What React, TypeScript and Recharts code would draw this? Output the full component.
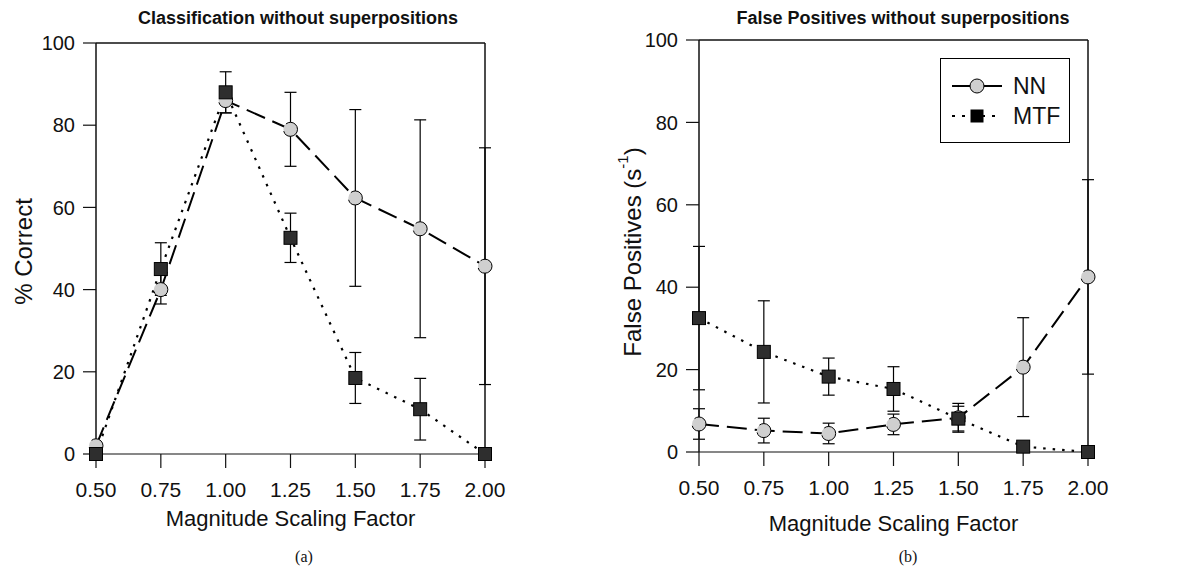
import React from 'react';
import { LineChart, Line, XAxis, YAxis, ErrorBar, ReferenceLine, Label } from 'recharts';

// magnitude scaling factors (x values) and axis ticks
const scaleFactors = [0.5, 0.75, 1.0, 1.25, 1.5, 1.75, 2.0];
const yTicks = [0, 20, 40, 60, 80, 100];

// (a) classification, % correct
const nnCorrect = [2, 40, 86, 79, 62.3, 54.8, 45.7];
const nnCorrectErr = [0, 3.5, 3, 9, 21.5, 26.5, 28.8];
const mtfCorrect = [0, 45, 88, 52.6, 18.5, 10.9, 0];
const mtfCorrectErr = [0, 6.4, 5, 6, 6.2, 7.5, 0];

// (b) false positives, per second
const nnFalse = [6.8, 5.2, 4.5, 6.7, 8.3, 20.6, 42.5];
const nnFalseErr = [3.7, 3, 2.5, 2.5, 3.5, 12, 23.6];
const mtfFalse = [32.5, 24.3, 18.3, 15.3, 8.1, 1.3, 0];
const mtfFalseErr = [17.4, 12.4, 4.5, 5.4, 3, 0, 0];

const correctData = scaleFactors.map((s, i) => ({
  s,
  nn: nnCorrect[i],
  nnErr: nnCorrectErr[i],
  mtf: mtfCorrect[i],
  mtfErr: mtfCorrectErr[i],
}));

const falseData = scaleFactors.map((s, i) => ({
  s,
  nn: nnFalse[i],
  nnErr: nnFalseErr[i],
  mtf: mtfFalse[i],
  mtfErr: mtfFalseErr[i],
}));

const FONT = '"Liberation Sans", Arial, Helvetica, sans-serif';
const INK = '#111';

const SquareDot = (props: any) => {
  const { cx, cy, index } = props;
  if (cx == null || cy == null) return null;
  return (
    <rect
      key={`sq-${index}`}
      x={cx - 6.5}
      y={cy - 6.5}
      width={13}
      height={13}
      fill="#2e2e2e"
      stroke="#000"
      strokeWidth={1}
    />
  );
};

const circleDot = { r: 7, fill: '#cfcfcf', stroke: '#000', strokeWidth: 1 };

interface PanelProps {
  data: any[];
  left: number;
  margin: { top: number; right: number; bottom: number; left: number };
  yLabel: React.ReactNode;
  yLabelDx: number;
  yLabelDy: number;
  xLabelDy: number;
}

const Panel: React.FC<PanelProps> = ({ data, left, margin, yLabel, yLabelDx, yLabelDy, xLabelDy }) => {
  const tickStyle = { fontSize: 21, fill: INK, fontFamily: FONT };
  return (
    <div style={{ position: 'absolute', left, top: 0 }}>
      <LineChart width={595} height={572} data={data} margin={margin}>
        <XAxis
          dataKey="s"
          type="number"
          domain={[0.5, 2]}
          ticks={scaleFactors}
          interval={0}
          tickFormatter={(v: number) => v.toFixed(2)}
          tick={tickStyle}
          tickSize={14}
          tickMargin={14}
          height={60}
          axisLine={{ stroke: INK, strokeWidth: 1.2 }}
          tickLine={{ stroke: INK, strokeWidth: 1.2 }}
        >
          <Label
            content={(p: any) => {
              const vb = p.viewBox || {};
              return (
                <text
                  x={vb.x + vb.width / 2}
                  y={vb.y + xLabelDy}
                  textAnchor="middle"
                  fontSize={22}
                  fontFamily={FONT}
                  fill={INK}
                >
                  Magnitude Scaling Factor
                </text>
              );
            }}
          />
        </XAxis>
        <YAxis
          type="number"
          domain={[0, 100]}
          ticks={yTicks}
          interval={0}
          tick={{ ...tickStyle, fontSize: 20 }}
          tickSize={13}
          tickMargin={8}
          width={60}
          axisLine={{ stroke: INK, strokeWidth: 1.5 }}
          tickLine={{ stroke: INK, strokeWidth: 1.2 }}
        >
          <Label
            content={(p: any) => {
              const vb = p.viewBox || {};
              const x = vb.x + yLabelDx;
              const y = vb.y + vb.height / 2 + yLabelDy;
              return (
                <text
                  x={x}
                  y={y}
                  transform={`rotate(-90, ${x}, ${y})`}
                  textAnchor="middle"
                  dominantBaseline="central"
                  fontSize={24}
                  fontFamily={FONT}
                  fill={INK}
                >
                  {yLabel}
                </text>
              );
            }}
          />
        </YAxis>
        <ReferenceLine y={100} stroke={INK} strokeWidth={1.5} />
        <ReferenceLine x={2} stroke={INK} strokeWidth={1.5} />
        <Line
          dataKey="nn"
          stroke="#000"
          strokeWidth={2}
          strokeDasharray="20 8"
          dot={circleDot}
          activeDot={false}
          isAnimationActive={false}
        >
          <ErrorBar dataKey="nnErr" width={6} stroke="#000" strokeWidth={1.2} direction="y" />
        </Line>
        <Line
          dataKey="mtf"
          stroke="#000"
          strokeWidth={2.2}
          strokeDasharray="2.5 7"
          dot={(p: any) => <SquareDot {...p} key={`sq-${p.index}`} />}
          activeDot={false}
          isAnimationActive={false}
        >
          <ErrorBar dataKey="mtfErr" width={6} stroke="#000" strokeWidth={1.2} direction="y" />
        </Line>
      </LineChart>
    </div>
  );
};

const titleStyle: React.CSSProperties = {
  position: 'absolute',
  top: 8,
  fontFamily: FONT,
  fontWeight: 'bold',
  fontSize: 18,
  color: INK,
  whiteSpace: 'nowrap',
  transform: 'translateX(-50%)',
};

const capStyle: React.CSSProperties = {
  position: 'absolute',
  top: 548,
  fontFamily: '"Liberation Serif", "Times New Roman", serif',
  fontSize: 16,
  color: INK,
  transform: 'translateX(-50%)',
};

const LegendBox = () => (
  <div
    style={{
      position: 'absolute',
      left: 940,
      top: 58,
      width: 128,
      height: 83,
      border: '1.5px solid #000',
      background: '#fff',
    }}
  >
    <svg width={128} height={83}>
      <line x1={11} y1={27} x2={61} y2={27} stroke="#000" strokeWidth={2} />
      <circle cx={36} cy={27} r={7} fill="#cfcfcf" stroke="#000" strokeWidth={1} />
      <text x={72} y={35} fontSize={23} fontFamily={FONT} fill={INK}>NN</text>
      <line x1={11} y1={57} x2={61} y2={57} stroke="#000" strokeWidth={2} strokeDasharray="3 7" />
      <rect x={29.5} y={50.5} width={13} height={13} fill="#000" />
      <text x={72} y={65} fontSize={23} fontFamily={FONT} fill={INK}>MTF</text>
    </svg>
  </div>
);

const App: React.FC = () => {
  return (
    <div
      style={{
        position: 'absolute',
        left: 0,
        top: 0,
        width: 1191,
        height: 572,
        background: '#fff',
        overflow: 'hidden',
      }}
    >
      <div style={{ ...titleStyle, left: 298 }}>Classification without superpositions</div>
      <div style={{ ...titleStyle, left: 903 }}>False Positives without superpositions</div>

      <Panel
        data={correctData}
        left={0}
        margin={{ top: 43, right: 110, bottom: 58, left: 36 }}
        yLabel="% Correct"
        yLabelDx={-13}
        yLabelDy={3}
        xLabelDy={72}
      />
      <Panel
        data={falseData}
        left={595}
        margin={{ top: 40, right: 102, bottom: 60, left: 44 }}
        yLabel={
          <>
            False Positives (s
            <tspan fontSize={15} dy={-10}>-1</tspan>
            <tspan dy={10}>)</tspan>
          </>
        }
        yLabelDx={-7}
        yLabelDy={6}
        xLabelDy={79}
      />

      <LegendBox />

      <div style={{ ...capStyle, left: 304 }}>(a)</div>
      <div style={{ ...capStyle, left: 908 }}>(b)</div>
    </div>
  );
};

export default App;
